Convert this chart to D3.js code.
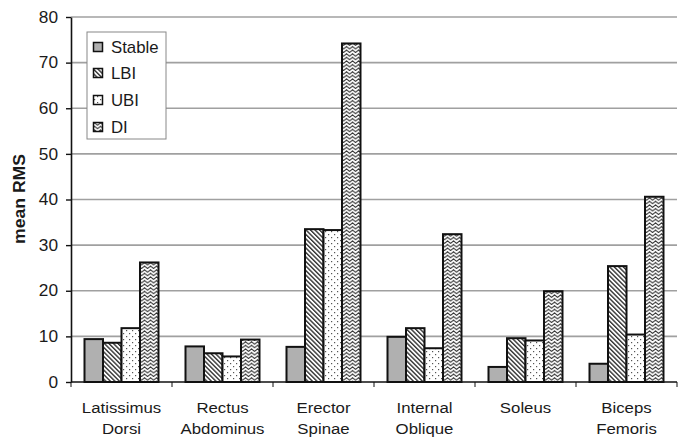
<!DOCTYPE html>
<html><head><meta charset="utf-8">
<script src="https://cdn.jsdelivr.net/npm/d3@7"></script>
<style>
html,body{margin:0;padding:0;background:#fff;}
text{font-family:"Liberation Sans",Arial,sans-serif;fill:#1a1a1a;}
</style></head>
<body>
<svg id="chart" width="678" height="443"></svg>
<script>
const categories = [["Latissimus","Dorsi"],["Rectus","Abdominus"],["Erector","Spinae"],["Internal","Oblique"],["Soleus",""],["Biceps","Femoris"]];
const seriesNames = ["Stable","LBI","UBI","DI"];
const stable = [9.4, 7.8, 7.7, 9.9, 3.3, 4.0];
const lbi    = [8.6, 6.3, 33.5, 11.8, 9.6, 25.4];
const ubi    = [11.8, 5.6, 33.3, 7.4, 9.1, 10.4];
const di     = [26.2, 9.3, 74.2, 32.4, 19.9, 40.6];
const yTicks = [0,10,20,30,40,50,60,70,80];
const yTitle = "mean RMS";

const values = [stable, lbi, ubi, di];
const svg = d3.select("#chart");
const m = {left:71, top:17, right:1, bottom:61};
const W = 678 - m.left - m.right, H = 443 - m.top - m.bottom;
const SX = 1.12;

const defs = svg.append("defs");
const p1 = defs.append("pattern").attr("id","pLBI").attr("patternUnits","userSpaceOnUse")
  .attr("width",3.2).attr("height",3.2).attr("patternTransform","rotate(-45)");
p1.append("rect").attr("width",3.2).attr("height",3.2).attr("fill","#fff");
p1.append("rect").attr("x",0).attr("y",0).attr("width",1.4).attr("height",3.2).attr("fill","#333");
const p2 = defs.append("pattern").attr("id","pUBI").attr("patternUnits","userSpaceOnUse")
  .attr("width",6).attr("height",6);
p2.append("rect").attr("width",6).attr("height",6).attr("fill","#fff");
p2.append("rect").attr("x",1).attr("y",1).attr("width",1.2).attr("height",1.2).attr("fill","#555");
p2.append("rect").attr("x",4).attr("y",4).attr("width",1.2).attr("height",1.2).attr("fill","#555");
const p3 = defs.append("pattern").attr("id","pDI").attr("patternUnits","userSpaceOnUse")
  .attr("width",6).attr("height",3.6);
p3.append("rect").attr("width",6).attr("height",3.6).attr("fill","#fff");
p3.append("path").attr("d","M-1.5,3.1 L1.5,0.8 L4.5,3.1 L7.5,0.8").attr("fill","none").attr("stroke","#333").attr("stroke-width",1.1);

const fills = ["#b0b0b0","url(#pLBI)","url(#pUBI)","url(#pDI)"];

const g = svg.append("g").attr("transform",`translate(${m.left},${m.top})`);
const y = d3.scaleLinear().domain([0,80]).range([H,0]);
const x0 = d3.scaleBand().domain(d3.range(categories.length)).range([0,W]).padding(0);
const x1 = d3.scaleBand().domain(d3.range(seriesNames.length)).range([0,x0.bandwidth()]).paddingInner(0).paddingOuter(0.73);

g.append("g").selectAll("line").data(yTicks.filter(d=>d>0)).join("line")
  .attr("x1",0).attr("x2",W).attr("y1",d=>y(d)).attr("y2",d=>y(d))
  .attr("stroke","#a0a0a0").attr("stroke-width",1.6);

const groups = g.append("g").selectAll("g").data(categories).join("g")
  .attr("transform",(d,i)=>`translate(${x0(i)},0)`);
groups.selectAll("rect").data((d,i)=>values.map((s,k)=>({k, v:s[i]}))).join("rect")
  .attr("x",d=>x1(d.k)).attr("width",x1.bandwidth())
  .attr("y",d=>y(d.v)).attr("height",d=>H-y(d.v))
  .attr("fill",d=>fills[d.k]).attr("stroke","#111").attr("stroke-width",2);

const ya = g.append("g").call(d3.axisLeft(y).tickValues(yTicks).tickSize(5).tickSizeOuter(0));
ya.select(".domain").attr("stroke","#111").attr("stroke-width",1.6);
ya.selectAll(".tick line").attr("stroke","#111").attr("stroke-width",1.4);
ya.selectAll(".tick text").attr("font-size",16).attr("fill","#1a1a1a")
  .attr("x",-13/1.08).attr("transform","scale(1.08,1)").attr("font-family","Liberation Sans, Arial, sans-serif");

const xa = g.append("g").attr("transform",`translate(0,${H})`);
xa.append("line").attr("x1",0).attr("x2",W).attr("stroke","#111").attr("stroke-width",1.6);
xa.selectAll("line.t").data(d3.range(categories.length+1)).join("line").attr("class","t")
  .attr("x1",d=>d*x0.step()).attr("x2",d=>d*x0.step()).attr("y1",0).attr("y2",5)
  .attr("stroke","#111").attr("stroke-width",1);
const lab = xa.selectAll("g.lab").data(categories).join("g").attr("class","lab")
  .attr("transform",(d,i)=>`translate(${x0(i)+x0.bandwidth()/2},0)`);
lab.each(function(d){
  const s = d3.select(this);
  d.forEach((line,j)=>{
    if(!line) return;
    s.append("text").attr("transform",`translate(0,${30.9+j*20.8}) scale(${SX},1)`)
      .attr("text-anchor","middle").attr("font-size",15).text(line);
  });
});

svg.append("text").attr("transform","translate(24.5,199) rotate(-90)")
  .attr("text-anchor","middle").attr("font-weight","bold").attr("font-size",16)
  .attr("textLength",90).attr("lengthAdjust","spacingAndGlyphs").text(yTitle);

const lg = svg.append("g").attr("transform","translate(87,32)");
lg.append("rect").attr("width",79).attr("height",107).attr("fill","#fff").attr("stroke","#888").attr("stroke-width",1);
const ly = [15,41,68,95];
seriesNames.forEach((n,k)=>{
  lg.append("rect").attr("x",6.5).attr("y",ly[k]-4.5).attr("width",9).attr("height",9)
    .attr("fill",fills[k]).attr("stroke","#111").attr("stroke-width",1.5);
  lg.append("text").attr("transform",`translate(24,${ly[k]+6}) scale(1.05,1)`)
    .attr("font-size",16).text(n);
});
</script>
</body></html>
